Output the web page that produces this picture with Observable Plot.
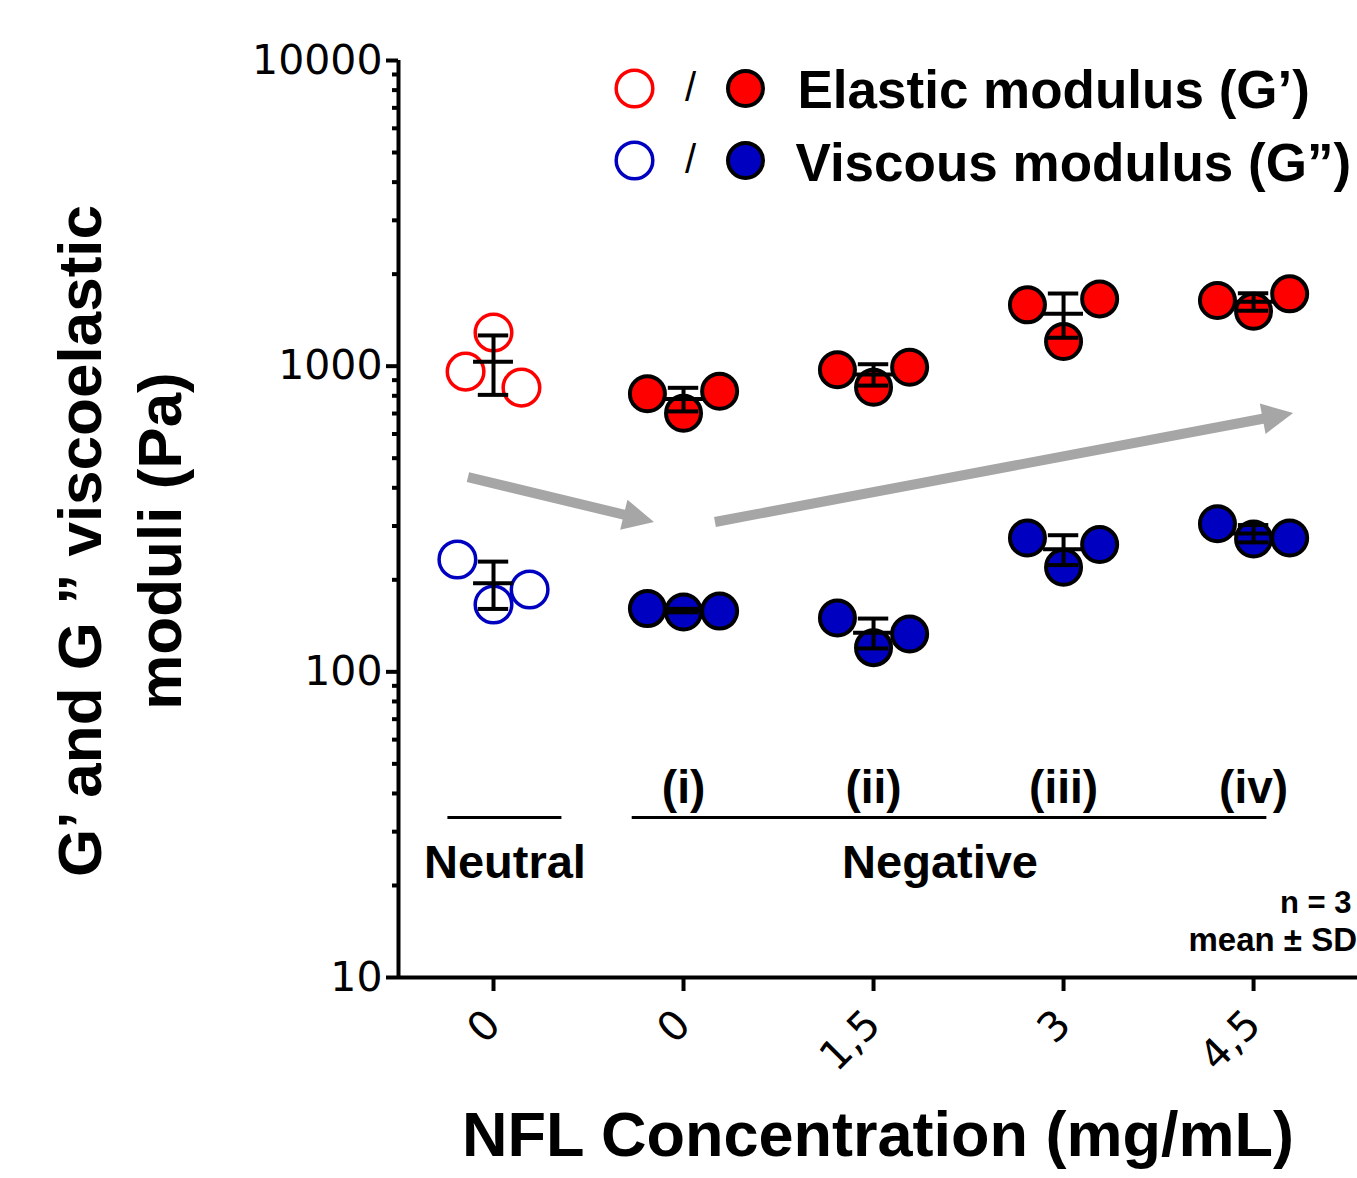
<!DOCTYPE html>
<html><head><meta charset="utf-8">
<script src="https://cdn.jsdelivr.net/npm/d3@7"></script>
<script src="https://cdn.jsdelivr.net/npm/@observablehq/plot@0.6"></script>
<style>
html,body{margin:0;padding:0;background:#fff;}
#chart{position:relative;width:1357px;height:1178px;overflow:hidden;}
</style></head><body><div id="chart"></div>
<script>
// ---------------- data ----------------
const tickLabels = ["0", "0", "1,5", "3", "4,5"];
const groupLabels = ["", "(i)", "(ii)", "(iii)", "(iv)"];
const charge = ["Neutral", "Negative", "Negative", "Negative", "Negative"];
// three replicates per group, listed left, centre, right (Pa)
const elastic = [[960, 1288, 851], [812, 701, 828], [973, 853, 992], [1587, 1204, 1660], [1639, 1512, 1724]];
const viscous = [[233, 166, 186], [161, 157, 158], [150, 120, 133], [274, 220, 261], [305, 272, 274]];
const seriesNames = ["Elastic modulus (G’)", "Viscous modulus (G”)"];
const majorTicks = [10, 100, 1000, 10000];
const yLabel = "G’ and G ” viscoelastic\nmoduli (Pa)";
const xLabel = "NFL Concentration (mg/mL)";

// ---------------- styling / layout ----------------
const colors = ["#ff0000", "#0000c0"];
const arrowColor = "#a6a6a6";
const bold = "Liberation Sans, Arial, sans-serif";
const tickFont = "DejaVu Sans, sans-serif";

const rows = [];
const stats = [];
[elastic, viscous].forEach((series, s) => {
  series.forEach((reps, g) => {
    reps.forEach((v, j) => rows.push({g, s, slot: j - 1, value: v, filled: charge[g] !== "Neutral", color: colors[s]}));
    stats.push({g, s, mean: d3.mean(reps), sd: d3.deviation(reps)});
  });
});
const spread = d => (d.g === 0 && d.s === 0) ? 0.147 : 0.19;
const xPos = d => d.g + d.slot * spread(d);

const minorTicks = [];
for (const dec of [10, 100, 1000]) for (let k = 2; k <= 9; k++) minorTicks.push(k * dec);

const brackets = [
  {name: "Neutral", from: -0.24, to: 0.36},
  {name: "Negative", from: 0.73, to: 4.07}
];
const arrows = [
  {x1: -0.132, y1: 432, x2: 0.847, y2: 308},
  {x1: 1.168, y1: 308, x2: 4.211, y2: 700}
];

const plot = Plot.plot({
  width: 1357, height: 1178,
  marginLeft: 398, marginRight: 0, marginTop: 60, marginBottom: 201,
  style: {fontFamily: tickFont, fontSize: "41px", color: "#000", background: "#fff"},
  x: {type: "linear", domain: [-0.5, 4.547]},
  y: {type: "log", domain: [10, 10000]},
  marks: [
    Plot.axisY({ticks: minorTicks, tickSize: 6, tickFormat: () => "", strokeWidth: 4, label: null}),
    Plot.axisY({ticks: majorTicks, tickSize: 12, tickPadding: 4, tickFormat: d3.format("d"), strokeWidth: 4, label: null}),
    Plot.axisX({ticks: [0, 1, 2, 3, 4], tickFormat: i => tickLabels[i], tickRotate: -45, tickSize: 14, tickPadding: 26, strokeWidth: 4, label: null}),
    Plot.ruleX([-0.5], {strokeWidth: 4}),
    Plot.ruleY([10], {strokeWidth: 4}),
    // data points
    Plot.dot(rows.filter(d => !d.filled), {x: xPos, y: "value", r: 18.3, stroke: "color", strokeWidth: 3.5, fill: "none"}),
    Plot.dot(rows.filter(d => d.filled), {x: xPos, y: "value", r: 17.5, fill: "color", stroke: "#000", strokeWidth: 4}),
    // mean ± SD
    Plot.ruleX(stats, {x: "g", y1: d => d.mean - d.sd, y2: d => d.mean + d.sd, strokeWidth: 4}),
    Plot.ruleY(stats, {y: d => d.mean + d.sd, x1: d => d.g - 0.08, x2: d => d.g + 0.08, strokeWidth: 4}),
    Plot.ruleY(stats, {y: d => d.mean - d.sd, x1: d => d.g - 0.08, x2: d => d.g + 0.08, strokeWidth: 4}),
    Plot.ruleY(stats, {y: "mean", x1: d => d.g - 0.105, x2: d => d.g + 0.105, strokeWidth: 4}),
    // group annotations
    Plot.text([1, 2, 3, 4], {x: d => d, text: d => groupLabels[d], frameAnchor: "bottom", dy: -175, lineAnchor: "bottom",
      textAnchor: "middle", fontFamily: bold, fontWeight: "bold", fontSize: 46}),
    Plot.ruleY(brackets, {y: () => 10, x1: "from", x2: "to", dy: -160, strokeWidth: 3}),
    Plot.text(brackets, {x: d => (d.from + d.to) / 2 - (d.name === "Negative" ? 0.05 : 0), text: "name", frameAnchor: "bottom",
      dy: -100, lineAnchor: "bottom", textAnchor: "middle", fontFamily: bold, fontWeight: "bold", fontSize: 47}),
    // n and statistics note
    Plot.text(["n = 3"], {text: d => d, frameAnchor: "bottom-right", dx: -6, dy: -65, textAnchor: "end", lineAnchor: "bottom",
      fontFamily: bold, fontWeight: "bold", fontSize: 31}),
    Plot.text(["mean ± SD"], {text: d => d, frameAnchor: "bottom-left", dx: 790, dy: -27, textAnchor: "start", lineAnchor: "bottom",
      fontFamily: bold, fontWeight: "bold", fontSize: 33}),
    // axis titles
    Plot.text([yLabel], {text: d => d, frameAnchor: "left", rotate: -90, dx: -283, dy: 22, textAnchor: "middle", lineAnchor: "middle", lineHeight: 1.29,
      fontFamily: bold, fontWeight: "bold", fontSize: 62}),
    Plot.text([xLabel], {text: d => d, frameAnchor: "bottom", dy: 178, lineAnchor: "bottom", textAnchor: "middle",
      fontFamily: bold, fontWeight: "bold", fontSize: 63})
  ]
});

// legend rows (dots and text positioned from the frame's top-left corner)
const legendRows = [0, 1];
const legend = Plot.plot({
  width: 1357, height: 1178,
  marginLeft: 398, marginRight: 0, marginTop: 60, marginBottom: 201,
  style: {fontFamily: bold, color: "#000", background: "transparent", position: "absolute", left: "0px", top: "0px"},
  x: {axis: null}, y: {axis: null},
  marks: [
    ...legendRows.map(s => Plot.dot([s], {frameAnchor: "top-left", dx: 236, dy: 28 + 72 * s, r: 18.3, fill: "none", stroke: colors[s], strokeWidth: 3.5})),
    ...legendRows.map(s => Plot.dot([s], {frameAnchor: "top-left", dx: 347, dy: 28 + 72 * s, r: 17.5, fill: colors[s], stroke: "#000", strokeWidth: 4})),
    ...legendRows.map(s => Plot.text(["/"], {text: d => d, frameAnchor: "top-left", dx: 292, dy: 28 + 72 * s, lineAnchor: "middle", textAnchor: "middle",
      fontFamily: "Liberation Sans, sans-serif", fontSize: 40})),
    ...legendRows.map(s => Plot.text([seriesNames[s]], {text: d => d, frameAnchor: "top-left", dx: 399 - 2 * s, dy: 47 + 73 * s,
      textAnchor: "start", lineAnchor: "bottom", fontFamily: bold, fontWeight: "bold", fontSize: 53}))
  ]
});

// trend arrows drawn through the plot's own scales
const sx = plot.scale("x"), sy = plot.scale("y");
const svg = d3.select(plot);
const headLen = 31, headHalf = 15.5, shaftHalf = 5;
for (const a of arrows) {
  const p0 = [sx.apply(a.x1), sy.apply(a.y1)], p1 = [sx.apply(a.x2), sy.apply(a.y2)];
  const dxp = p1[0] - p0[0], dyp = p1[1] - p0[1], L = Math.hypot(dxp, dyp);
  const u = [dxp / L, dyp / L], n = [-u[1], u[0]];
  const b = [p1[0] - u[0] * headLen, p1[1] - u[1] * headLen];
  const pt = (p, k) => [p[0] + n[0] * k, p[1] + n[1] * k];
  const pts = [pt(p0, shaftHalf), pt(b, shaftHalf), pt(b, headHalf), p1, pt(b, -headHalf), pt(b, -shaftHalf), pt(p0, -shaftHalf)];
  svg.append("path").attr("d", "M" + pts.map(p => p.join(",")).join("L") + "Z").attr("fill", arrowColor);
}

const chart = document.getElementById("chart");
chart.appendChild(plot);
chart.appendChild(legend);
</script>
</body></html>
